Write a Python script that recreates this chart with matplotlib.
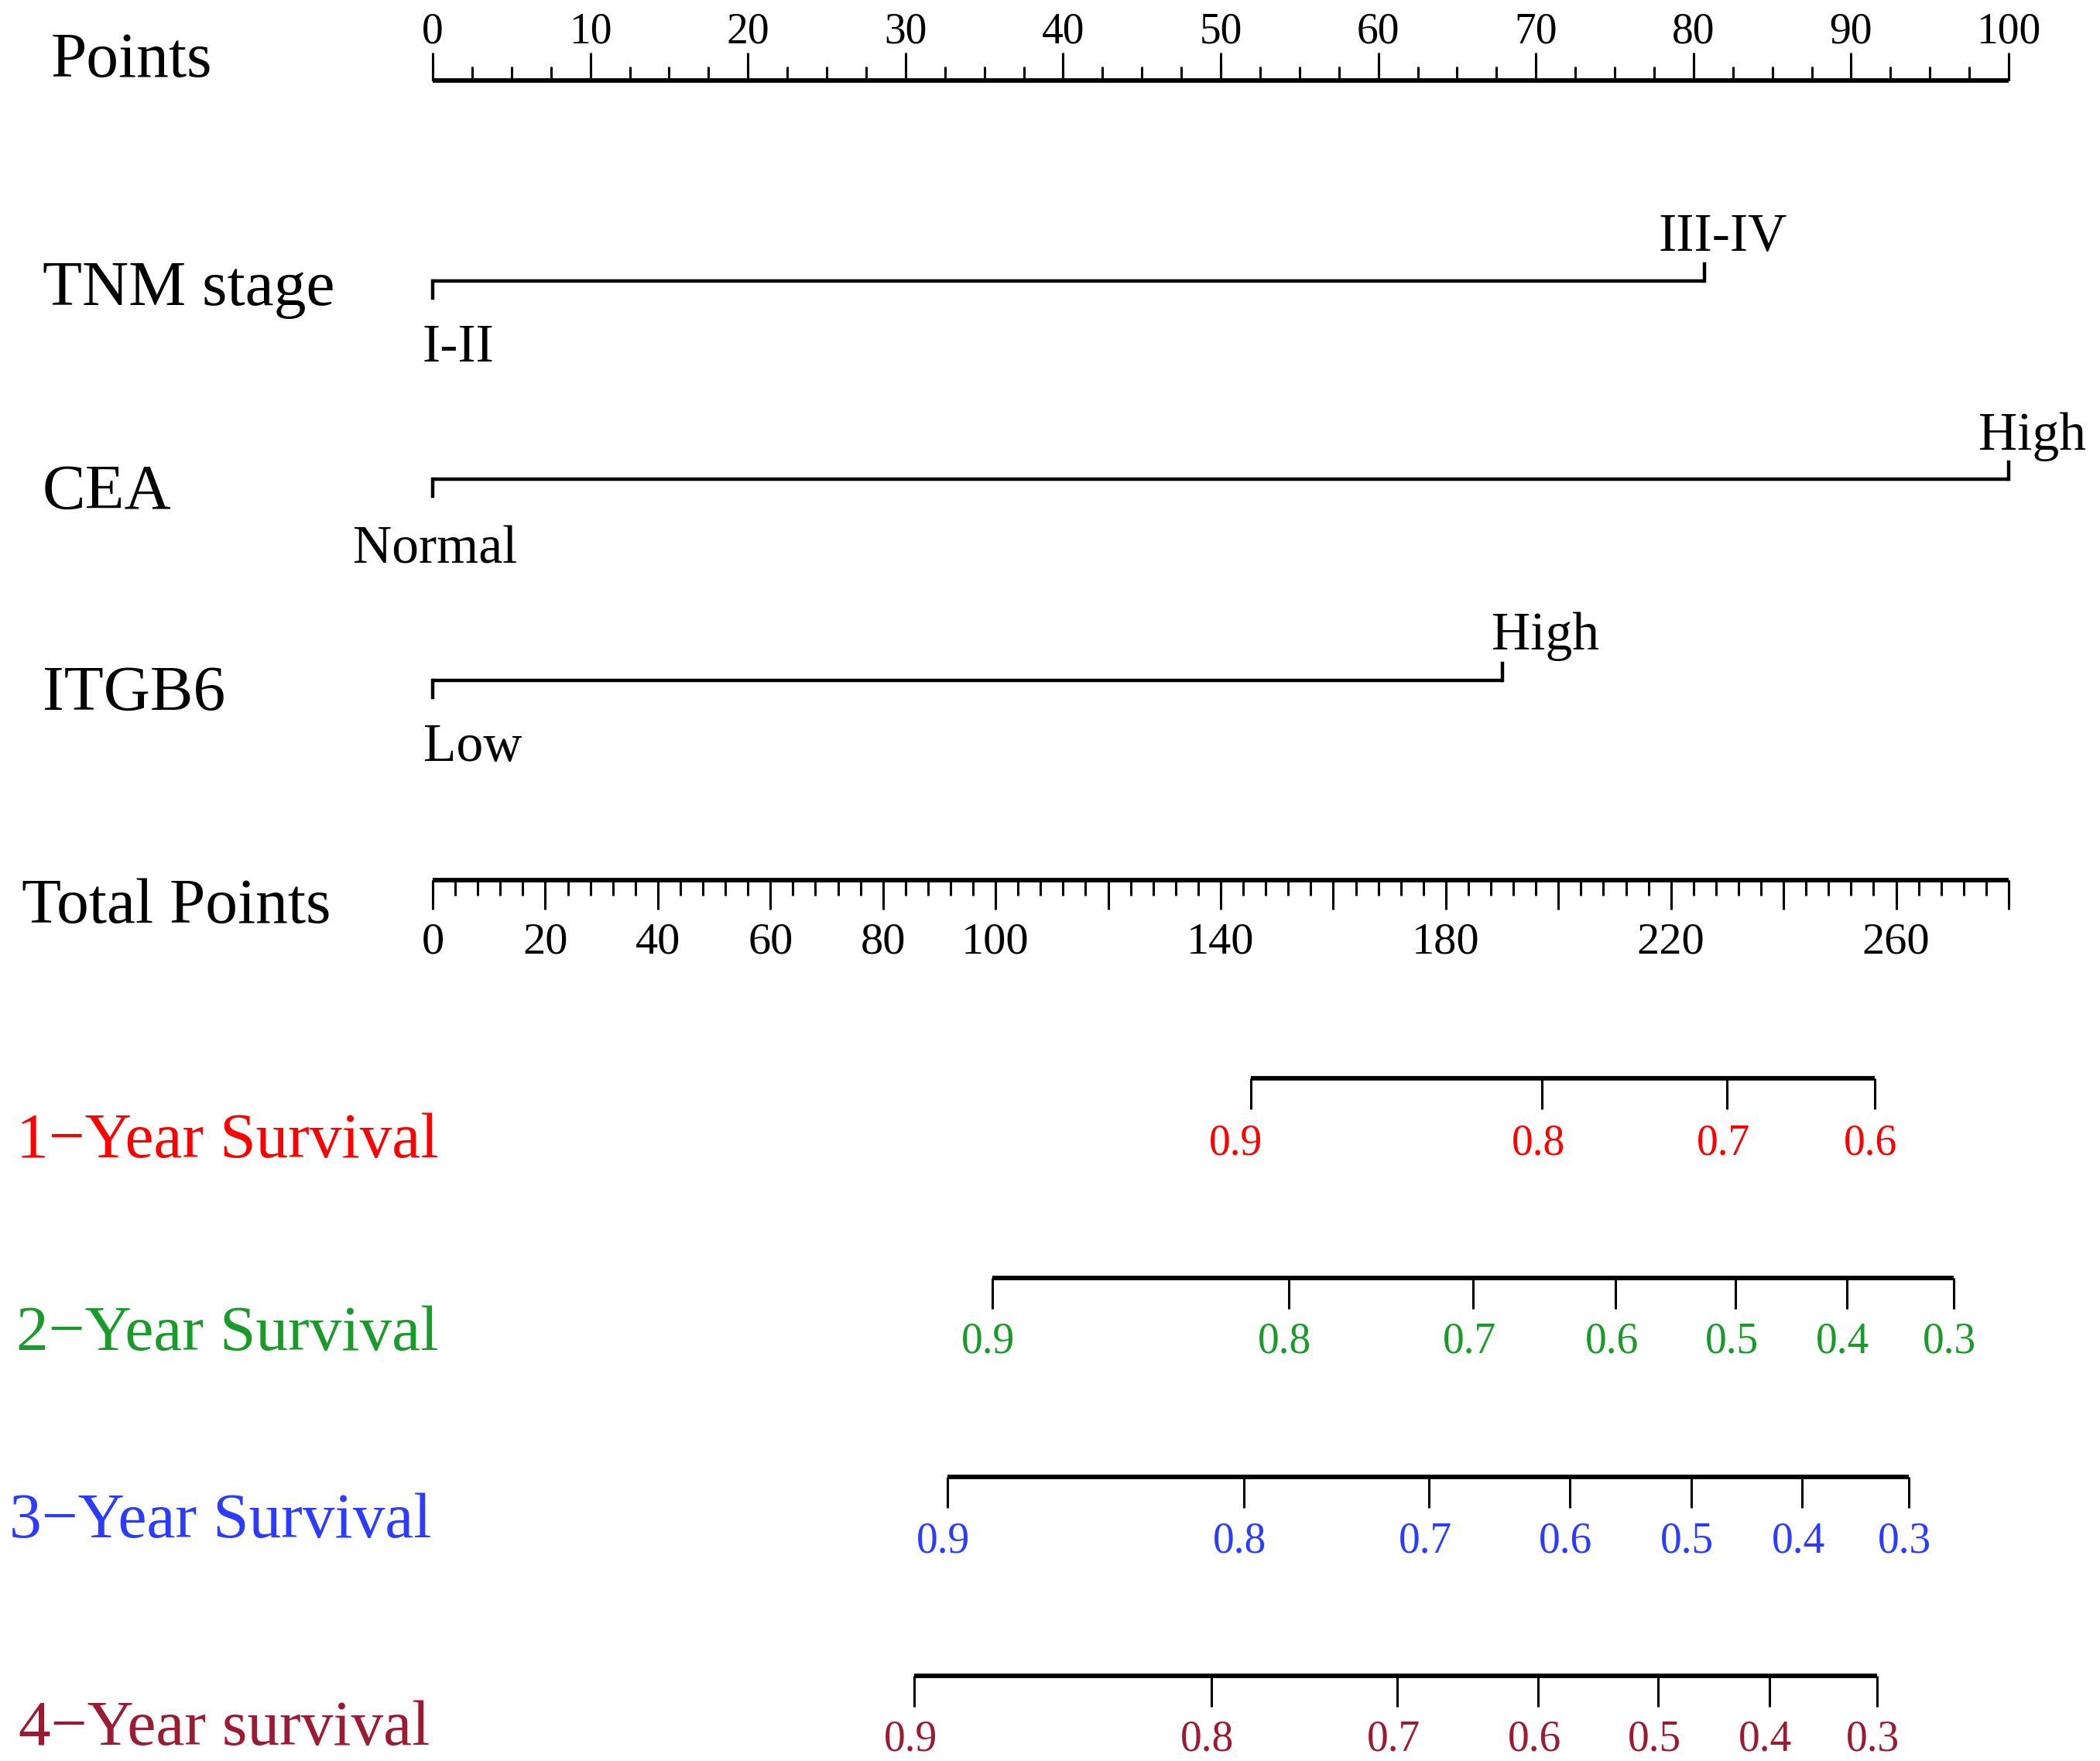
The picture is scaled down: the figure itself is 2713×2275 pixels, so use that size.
import numpy as np
import matplotlib.pyplot as plt

# ---- data ----
points_major = np.arange(0, 101, 10)
points_minor = np.arange(0, 100.1, 2.5)

total_max = 280
total_major = np.arange(0, 281, 20)
total_minor = np.arange(0, 281, 4)
total_labels = [0, 20, 40, 60, 80, 100, 140, 180, 220, 260]

predictors = ['TNM stage', 'CEA', 'ITGB6']
levels = [['I-II', 'III-IV'], ['Normal', 'High'], ['Low', 'High']]
level_points = [[0, 80.7], [0, 100], [0, 67.9]]

surv_names = ['1\u2212Year Survival', '2\u2212Year Survival',
              '3\u2212Year Survival', '4\u2212Year survival']
surv_colors = ['#FF0000', '#1A9A2A', '#2B3BFF', '#9B1B33']
surv_probs = [[0.9, 0.8, 0.7, 0.6],
              [0.9, 0.8, 0.7, 0.6, 0.5, 0.4, 0.3],
              [0.9, 0.8, 0.7, 0.6, 0.5, 0.4, 0.3],
              [0.9, 0.8, 0.7, 0.6, 0.5, 0.4, 0.3]]
# total points at which each probability tick sits
surv_total = [[145.4, 197.1, 230.0, 256.2],
              [99.4, 152.1, 184.9, 210.2, 231.5, 251.2, 270.2],
              [91.4, 144.1, 177.0, 202.0, 223.6, 243.3, 262.2],
              [85.6, 138.3, 171.4, 196.4, 217.7, 237.5, 256.6]]

# ---- layout (pixels of the 2713x2275 canvas) ----
W, H = 2713, 2275
PX0, PX100 = 559, 2595
scale = (PX100 - PX0) / 100.0

def hx(px):
    return (px - PX0) / scale

def tp(v):
    # total points -> points scale
    return np.asarray(v) * 100.0 / total_max

FONT = 'Liberation Serif'
LAB = 60
LW = 4.2
VLW = 3.2
TW = 2.2

fig = plt.figure(figsize=(W / 100, H / 100), dpi=100)
ax = fig.add_axes([0, 0, 1, 1])
ax.set_xlim(hx(0), hx(W))
ax.set_ylim(H, 0)
ax.axis('off')

# Points axis
y = 104
ax.plot([0, 100], [y, y], color='black', lw=LW, solid_capstyle='butt')
ax.vlines(points_minor, y - 18, y, color='black', lw=TW)
ax.vlines(points_major, y - 36, y, color='black', lw=TW)
for v in points_major:
    ax.text(v, 55, str(v), ha='center', va='baseline', fontsize=40, family=FONT)
ax.text(hx(66), 99, 'Points', ha='left', va='baseline', fontsize=LAB, family=FONT)

# predictors
var_y = [363, 619, 879]
name_base = [394, 657, 917]
low_base = [467, 727, 983]
high_base = [324, 581, 839]
low_dx = [33, 3, 52]
high_dx = [24, 31, 55]
for i, name in enumerate(predictors):
    yy = var_y[i]
    p0, p1 = level_points[i]
    ax.plot([p0, p1], [yy, yy], color='black', lw=VLW, solid_capstyle='butt')
    ax.plot([p0, p0], [yy, yy + 22], color='black', lw=VLW)
    ax.plot([p1, p1], [yy - 22, yy], color='black', lw=VLW)
    ax.text(p0 + low_dx[i] / scale, low_base[i], levels[i][0], ha='center',
            va='baseline', fontsize=50, family=FONT)
    ax.text(p1 + high_dx[i] / scale, high_base[i], levels[i][1], ha='center',
            va='baseline', fontsize=50, family=FONT)
    ax.text(hx(55), name_base[i], name, ha='left', va='baseline', fontsize=LAB,
            family=FONT)

# Total points axis
y = 1137
ax.plot([0, 100], [y, y], color='black', lw=LW, solid_capstyle='butt')
ax.vlines(tp(total_minor), y, y + 20, color='black', lw=TW)
ax.vlines(tp(total_major), y, y + 38, color='black', lw=TW)
for v in total_labels:
    ax.text(tp(v), 1232, str(v), ha='center', va='baseline', fontsize=42,
            family=FONT)
ax.text(hx(28), 1192, 'Total Points', ha='left', va='baseline', fontsize=LAB,
        family=FONT)

# survival axes
surv_y = [1393, 1651, 1908, 2165]
surv_name_base = [1495, 1744, 1986, 2254]
surv_name_x = [21, 21, 12, 24]
surv_tick_base = [1491, 1748, 2005, 2261]
for i, name in enumerate(surv_names):
    yy = surv_y[i]
    xs = tp(surv_total[i])
    ax.plot([xs.min(), xs.max()], [yy, yy], color='black', lw=LW,
            solid_capstyle='butt')
    ax.vlines(xs, yy, yy + 40, color='black', lw=TW)
    for j, (x, p) in enumerate(zip(xs, surv_probs[i])):
        dx = -20 if (i == 0 and j == 0) else -5
        ax.text(x + dx / scale, surv_tick_base[i], f'{p:.1f}', ha='center',
                va='baseline', fontsize=40, family=FONT, color=surv_colors[i])
    ax.text(hx(surv_name_x[i]), surv_name_base[i], name, ha='left',
            va='baseline', fontsize=LAB, family=FONT, color=surv_colors[i])

fig.savefig('out.png', dpi=100, facecolor='white')
